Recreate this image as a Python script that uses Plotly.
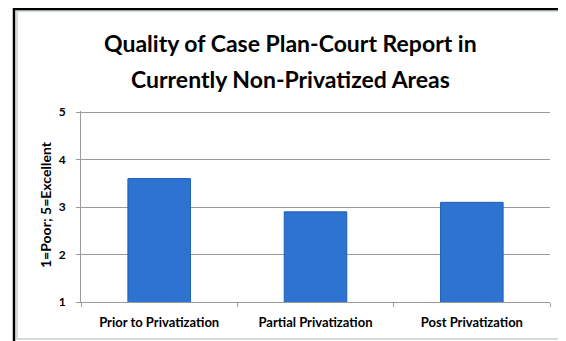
import plotly.graph_objects as go

categories = ["Prior to Privatization", "Partial Privatization", "Post Privatization"]
values = [3.6, 2.9, 3.1]
y_ticks = [1, 2, 3, 4, 5]
title_lines = ["Quality of Case Plan-Court Report in", "Currently Non-Privatized Areas"]
y_title = "1=Poor; 5=Excellent"

# page body has an 8px margin; all pixel positions below are figure pixels
W, H = 566, 341
L, R, T, B = 73, 24, 103, 47
pw, ph = W - L - R, H - T - B

def px_x(x):
    return (x - L) / pw

def px_y(y):
    return (H - B - y) / ph

FONT = "Lato"

fig = go.Figure()
fig.add_trace(go.Bar(
    x=categories, y=values, base=0,
    marker=dict(color="#2E73D2", line=dict(color="#1E5DB6", width=1)),
    width=0.4,
))

fig.update_layout(
    width=W, height=H,
    margin=dict(l=L, r=R, t=T, b=B),
    paper_bgcolor="white", plot_bgcolor="white",
    showlegend=False,
    font=dict(family=FONT, color="black"),
    xaxis=dict(
        showline=True, linecolor="#9a9a9a", linewidth=1,
        ticks="outside", tickson="boundaries", ticklen=4, tickcolor="#9a9a9a",
        tickfont=dict(family=FONT, size=13, color="black", weight="bold"),
        ticklabelstandoff=8,
        showgrid=False,
    ),
    yaxis=dict(
        range=[1, 5.025], tickvals=y_ticks,
        showline=True, linecolor="#9a9a9a", linewidth=1,
        ticks="outside", ticklen=4, tickcolor="#9a9a9a",
        showgrid=True, gridcolor="#9a9a9a", gridwidth=1,
        tickfont=dict(family=FONT, size=12, color="black", weight="bold"),
        ticklabelstandoff=8,
        zeroline=False,
    ),
    annotations=[
        dict(text="<b>%s</b>" % title_lines[0], xref="paper", yref="paper",
             x=px_x(282), y=px_y(35), xanchor="center", yanchor="middle",
             showarrow=False, font=dict(family=FONT, size=23, color="black")),
        dict(text="<b>%s</b>" % title_lines[1], xref="paper", yref="paper",
             x=px_x(282), y=px_y(70.5), xanchor="center", yanchor="middle",
             showarrow=False, font=dict(family=FONT, size=23, color="black")),
        dict(text="<b>%s</b>" % y_title, xref="paper", yref="paper",
             x=px_x(37), y=px_y(197), xanchor="center", yanchor="middle",
             textangle=-90, showarrow=False,
             font=dict(family=FONT, size=14, color="black")),
    ],
    shapes=[
        dict(type="rect", xref="paper", yref="paper",
             x0=px_x(9), x1=px_x(556), y0=px_y(331), y1=px_y(3),
             line=dict(color="#c5cfcf", width=1.5)),
        dict(type="rect", xref="paper", yref="paper",
             x0=px_x(6), x1=px_x(580), y0=px_y(360), y1=px_y(1),
             line=dict(color="black", width=2.5)),
    ],
)

fig.write_html("out.html")
